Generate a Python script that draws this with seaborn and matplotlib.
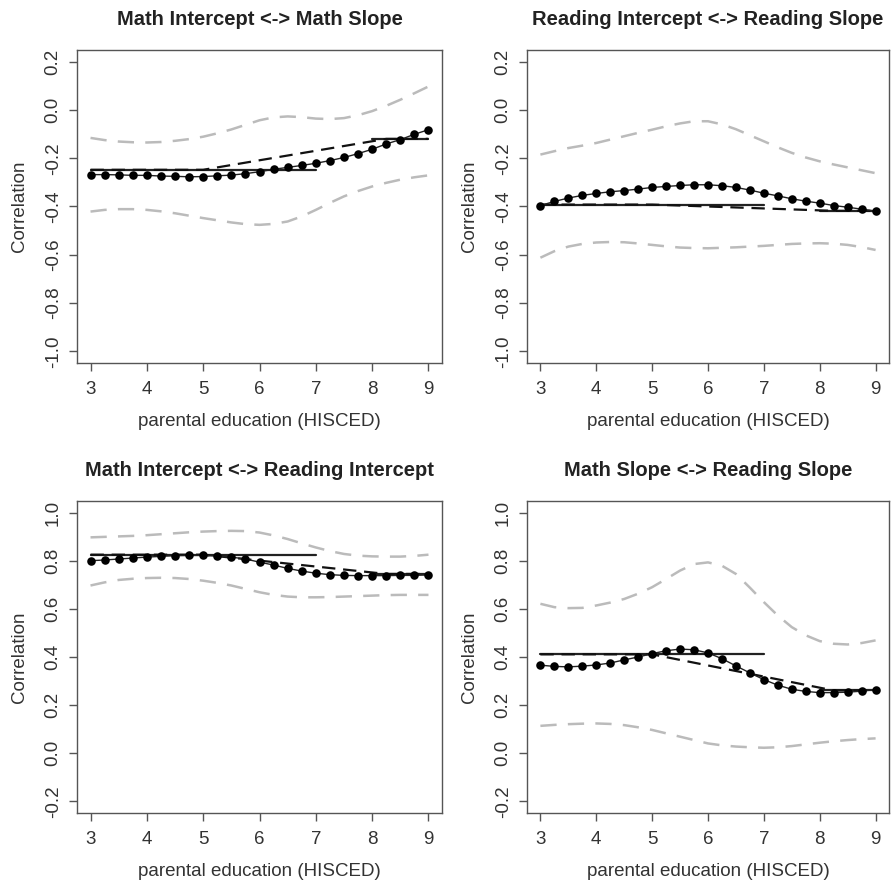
import numpy as np
import pandas as pd
import matplotlib
matplotlib.use("Agg")
import matplotlib.pyplot as plt
import seaborn as sns

sns.set_style("white")
plt.rcParams['font.family'] = ['Liberation Sans', 'DejaVu Sans']

hisced = [3.0, 3.25, 3.5, 3.75, 4.0, 4.25, 4.5, 4.75, 5.0, 5.25, 5.5, 5.75, 6.0,
          6.25, 6.5, 6.75, 7.0, 7.25, 7.5, 7.75, 8.0, 8.25, 8.5, 8.75, 9.0]

titles = ["Math Intercept <-> Math Slope",
          "Reading Intercept <-> Reading Slope",
          "Math Intercept <-> Reading Intercept",
          "Math Slope <-> Reading Slope"]

est1 = [-0.268, -0.268, -0.269, -0.271, -0.271, -0.274, -0.275, -0.277, -0.276, -0.273, -0.270, -0.264, -0.256,
        -0.246, -0.238, -0.230, -0.221, -0.210, -0.197, -0.181, -0.163, -0.141, -0.123, -0.101, -0.082]
up1 = [-0.116, -0.125, -0.131, -0.134, -0.135, -0.133, -0.128, -0.121, -0.111, -0.097, -0.081, -0.062, -0.043,
       -0.031, -0.027, -0.030, -0.036, -0.038, -0.034, -0.022, -0.005, 0.017, 0.042, 0.069, 0.097]
lo1 = [-0.421, -0.414, -0.411, -0.411, -0.414, -0.420, -0.428, -0.438, -0.448, -0.457, -0.466, -0.473, -0.476,
       -0.472, -0.462, -0.441, -0.414, -0.385, -0.358, -0.336, -0.317, -0.302, -0.289, -0.279, -0.271]

est2 = [-0.396, -0.379, -0.365, -0.354, -0.346, -0.339, -0.334, -0.328, -0.321, -0.317, -0.313, -0.310, -0.310,
        -0.314, -0.321, -0.332, -0.345, -0.356, -0.368, -0.378, -0.386, -0.396, -0.403, -0.411, -0.419]
up2 = [-0.185, -0.171, -0.158, -0.148, -0.137, -0.123, -0.109, -0.095, -0.082, -0.068, -0.056, -0.047, -0.047,
       -0.060, -0.080, -0.105, -0.130, -0.155, -0.178, -0.197, -0.213, -0.226, -0.238, -0.250, -0.262]
lo2 = [-0.612, -0.585, -0.566, -0.555, -0.549, -0.547, -0.548, -0.553, -0.559, -0.565, -0.570, -0.572, -0.573,
       -0.571, -0.569, -0.566, -0.563, -0.559, -0.555, -0.553, -0.552, -0.554, -0.559, -0.568, -0.580]

est3 = [0.800, 0.803, 0.807, 0.811, 0.815, 0.818, 0.821, 0.822, 0.822, 0.819, 0.815, 0.807, 0.794,
        0.782, 0.768, 0.757, 0.748, 0.742, 0.739, 0.738, 0.738, 0.738, 0.739, 0.739, 0.741]
up3 = [0.897, 0.899, 0.901, 0.903, 0.906, 0.910, 0.914, 0.918, 0.921, 0.923, 0.924, 0.923, 0.917,
       0.905, 0.890, 0.872, 0.855, 0.840, 0.828, 0.821, 0.818, 0.817, 0.817, 0.820, 0.825]
lo3 = [0.697, 0.710, 0.720, 0.725, 0.728, 0.729, 0.728, 0.724, 0.717, 0.708, 0.697, 0.683, 0.669,
       0.658, 0.651, 0.648, 0.648, 0.649, 0.651, 0.653, 0.655, 0.657, 0.658, 0.658, 0.658]

est4 = [0.366, 0.361, 0.359, 0.362, 0.367, 0.375, 0.388, 0.400, 0.414, 0.426, 0.433, 0.430, 0.417,
        0.393, 0.363, 0.334, 0.306, 0.283, 0.266, 0.257, 0.252, 0.252, 0.254, 0.258, 0.265]
up4 = [0.621, 0.607, 0.603, 0.604, 0.614, 0.626, 0.641, 0.663, 0.690, 0.724, 0.759, 0.786, 0.793,
       0.779, 0.745, 0.688, 0.628, 0.572, 0.524, 0.490, 0.466, 0.455, 0.452, 0.458, 0.469]
lo4 = [0.114, 0.118, 0.121, 0.123, 0.124, 0.122, 0.117, 0.108, 0.097, 0.083, 0.069, 0.055, 0.041,
       0.033, 0.028, 0.025, 0.023, 0.025, 0.030, 0.037, 0.044, 0.050, 0.055, 0.059, 0.062]

# group correlations: low (HISCED 3-7) and high (HISCED 8-9)
group_low = [-0.248, -0.392, 0.825, 0.411]
group_high = [-0.120, -0.418, 0.745, 0.261]
low_range = [3, 7]
high_range = [8, 9]
# knots of the dashed trend line
trend_x = [3, 5, 8.25, 9]

estimates = [est1, est2, est3, est4]
uppers = [up1, up2, up3, up4]
lowers = [lo1, lo2, lo3, lo4]

yticks_top = [-1.0, -0.8, -0.6, -0.4, -0.2, 0.0, 0.2]
yticks_bot = [-0.2, 0.0, 0.2, 0.4, 0.6, 0.8, 1.0]
xticks = [3, 4, 5, 6, 7, 8, 9]

W, H = 891, 886
fig = plt.figure(figsize=(W / 100, H / 100), dpi=100)

boxes = [(77, 50, 442, 363), (527, 50, 889, 363),
         (77, 501, 442, 813), (527, 501, 889, 813)]

spine_col = "#555555"
fs = 13.5

for i in range(4):
    l, t, r, b = boxes[i]
    ax = fig.add_axes([l / W, 1 - b / H, (r - l) / W, (b - t) / H])
    df = pd.DataFrame({"x": hisced, "est": estimates[i], "up": uppers[i], "lo": lowers[i]})
    sns.lineplot(data=df, x="x", y="up", ax=ax, color="#bbbbbb", lw=1.8,
                 linestyle=(0, (6.5, 4.5)), estimator=None, sort=False)
    sns.lineplot(data=df, x="x", y="lo", ax=ax, color="#bbbbbb", lw=1.8,
                 linestyle=(0, (6.5, 4.5)), estimator=None, sort=False)
    sns.lineplot(x=low_range, y=[group_low[i]] * 2, ax=ax, color="#222222", lw=1.6, estimator=None)
    sns.lineplot(x=high_range, y=[group_high[i]] * 2, ax=ax, color="#222222", lw=1.6, estimator=None)
    trend_y = [group_low[i], group_low[i], group_high[i], group_high[i]]
    sns.lineplot(x=trend_x, y=trend_y, ax=ax, color="#111111", lw=1.6,
                 linestyle=(0, (6, 3.5)), estimator=None)
    sns.lineplot(data=df, x="x", y="est", ax=ax, color="#222222", lw=1.0, estimator=None)
    sns.scatterplot(data=df, x="x", y="est", ax=ax, color="black", s=38,
                    edgecolor="black", linewidth=0, zorder=5)

    ax.set_xlim(2.76, 9.24)
    if i < 2:
        ax.set_ylim(-1.048, 0.248)
        yt = yticks_top
    else:
        ax.set_ylim(-0.248, 1.048)
        yt = yticks_bot
    ax.set_yticks(yt)
    ax.set_yticklabels([f"{v:.1f}" for v in yt], rotation=90, va="center", fontsize=fs, color="#333333")
    ax.set_xticks(xticks)
    ax.set_xticklabels([str(v) for v in xticks], fontsize=fs, color="#333333")
    ax.tick_params(axis="both", direction="out", length=6, width=1, color=spine_col,
                   left=True, bottom=True)
    ax.tick_params(axis="x", pad=7)
    ax.tick_params(axis="y", pad=5)
    for s in ax.spines.values():
        s.set_color(spine_col)
        s.set_linewidth(1.0)
    ax.set_xlabel("parental education (HISCED)", fontsize=fs, color="#333333", labelpad=11)
    ax.set_ylabel("Correlation", fontsize=fs, color="#333333", labelpad=12)
    ax.set_title(titles[i], fontsize=14.5, fontweight="bold", color="#222222", pad=18)
    ax.grid(False)
    ax.set_facecolor("white")

fig.savefig("out.png", dpi=100, facecolor="white")
